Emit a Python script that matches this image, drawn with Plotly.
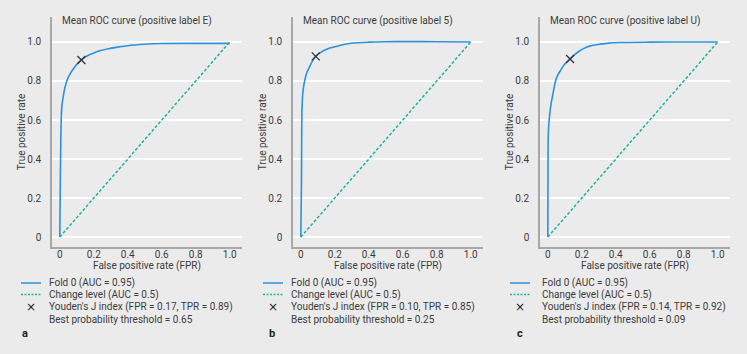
import plotly.graph_objects as go

W, H = 747, 354

titles = ["Mean ROC curve (positive label E)",
          "Mean ROC curve (positive label 5)",
          "Mean ROC curve (positive label U)"]
panel_letters = ["a", "b", "c"]

# ROC curves
fpr_a = [0.0, 0.003, 0.006, 0.008, 0.012, 0.02, 0.03, 0.043, 0.058, 0.075, 0.1, 0.127, 0.16, 0.196, 0.24, 0.294, 0.35, 0.40, 0.5, 0.6, 0.8, 1.0]
tpr_a = [0.0, 0.30, 0.50, 0.60, 0.67, 0.72, 0.765, 0.805, 0.833, 0.856, 0.885, 0.908, 0.928, 0.942, 0.956, 0.967, 0.975, 0.981, 0.988, 0.992, 0.993, 0.993]
fpr_b = [0.0, 0.004, 0.006, 0.009, 0.012, 0.018, 0.025, 0.036, 0.05, 0.068, 0.088, 0.12, 0.16, 0.213, 0.26, 0.31, 0.4, 0.5, 0.6, 0.8, 1.0]
tpr_b = [0.0, 0.30, 0.62, 0.70, 0.74, 0.78, 0.81, 0.845, 0.87, 0.902, 0.926, 0.948, 0.965, 0.978, 0.988, 0.995, 0.999, 1.001, 1.002, 1.001, 1.0]
fpr_c = [0.0, 0.001, 0.002, 0.004, 0.008, 0.016, 0.027, 0.047, 0.06, 0.076, 0.1, 0.131, 0.155, 0.18, 0.21, 0.249, 0.3, 0.347, 0.425, 0.6, 0.8, 1.0]
tpr_c = [0.0, 0.30, 0.497, 0.55, 0.60, 0.665, 0.72, 0.805, 0.833, 0.856, 0.887, 0.913, 0.933, 0.95, 0.966, 0.98, 0.988, 0.993, 0.997, 0.999, 1.0, 1.0]
fprs = [fpr_a, fpr_b, fpr_c]
tprs = [tpr_a, tpr_b, tpr_c]

# Youden's J points (as drawn)
youden_fpr = [0.127, 0.088, 0.131]
youden_tpr = [0.908, 0.926, 0.913]

chance_x = [0.0, 1.0]
chance_y = [0.0, 1.0]

legend_texts = [
    ["Fold 0 (AUC = 0.95)", "Change level (AUC = 0.5)",
     "Youden's J index (FPR = 0.17, TPR = 0.89)", "Best probability threshold = 0.65"],
    ["Fold 0 (AUC = 0.95)", "Change level (AUC = 0.5)",
     "Youden's J index (FPR = 0.10, TPR = 0.85)", "Best probability threshold = 0.25"],
    ["Fold 0 (AUC = 0.95)", "Change level (AUC = 0.5)",
     "Youden's J index (FPR = 0.14, TPR = 0.92)", "Best probability threshold = 0.09"],
]

tick_vals = [0, 0.2, 0.4, 0.6, 0.8, 1.0]
tick_text = ["0", "0.2", "0.4", "0.6", "0.8", "1.0"]

# ---- styling ----
BG = "#ebebeb"
BLUE = "#2b92da"
TEAL = "#1bb3a0"
TXT = "#3c3c3c"
AXC = "#a8a8a8"
FONT = "Roboto"
FS = 10

axis_left_px = [52, 293, 540]
plot_w = 190
top_px, bot_px = 17, 247

def px(x):
    return x / W

def py(y):
    return 1 - y / H

fig = go.Figure()
annotations = []
shapes = []

for i in range(3):
    xa = "x" if i == 0 else f"x{i+1}"
    ya = "y" if i == 0 else f"y{i+1}"
    fig.add_trace(go.Scatter(x=chance_x, y=chance_y, mode="lines",
                             line=dict(color=TEAL, width=1.5, dash="3px,2px"),
                             xaxis=xa, yaxis=ya, showlegend=False, hoverinfo="skip"))
    fig.add_trace(go.Scatter(x=fprs[i], y=tprs[i], mode="lines",
                             line=dict(color=BLUE, width=1.6, shape="spline", smoothing=0.8),
                             xaxis=xa, yaxis=ya, showlegend=False))
    fig.add_trace(go.Scatter(x=[youden_fpr[i]], y=[youden_tpr[i]], mode="markers",
                             marker=dict(symbol="x-thin", size=8, line=dict(color="#333333", width=1.3)),
                             xaxis=xa, yaxis=ya, showlegend=False))

    l = axis_left_px[i]
    dom = [px(l), px(l + plot_w)]
    xkey = "xaxis" if i == 0 else f"xaxis{i+1}"
    ykey = "yaxis" if i == 0 else f"yaxis{i+1}"
    fig.layout[xkey] = dict(domain=dom, anchor=ya, range=[-0.046, 1.072],
                            tickvals=tick_vals, ticktext=tick_text, showgrid=False,
                            zeroline=False, showline=True, linecolor=AXC, linewidth=1.5,
                            ticks="", ticklen=0, ticklabelstandoff=-3,
                            tickfont=dict(family=FONT, size=FS, color=TXT),
                            title=dict(text="False positive rate (FPR)", standoff=2,
                                       font=dict(family=FONT, size=FS, color=TXT)))
    fig.layout[ykey] = dict(domain=[py(bot_px), py(top_px)], anchor=xa, range=[-0.051, 1.128],
                            tickvals=tick_vals, ticktext=tick_text, showgrid=True,
                            gridcolor="#ffffff", gridwidth=1.5,
                            zeroline=False, showline=True, linecolor=AXC, linewidth=1.5,
                            ticks="outside", ticklen=7, tickcolor="rgba(0,0,0,0)",
                            tickfont=dict(family=FONT, size=FS, color=TXT),
                            title=dict(text="True positive rate", standoff=0,
                                       font=dict(family=FONT, size=FS, color=TXT)))

    # panel title
    annotations.append(dict(text=titles[i], xref="paper", yref="paper",
                            x=px(l + 8), y=py(21), xanchor="left", yanchor="middle",
                            showarrow=False, font=dict(family=FONT, size=FS, color=TXT)))

# legends (drawn manually)
key_x0 = [21, 263, 510]
text_x = [47, 289, 540]
rows_y = [283, 294.5, 307, 319.5]
letter_x = [20, 267, 515]
for i in range(3):
    k0 = key_x0[i]
    shapes.append(dict(type="line", xref="paper", yref="paper",
                       x0=px(k0), x1=px(k0 + 20), y0=py(rows_y[0]), y1=py(rows_y[0]),
                       line=dict(color=BLUE, width=1.5)))
    shapes.append(dict(type="line", xref="paper", yref="paper",
                       x0=px(k0), x1=px(k0 + 20), y0=py(rows_y[1]), y1=py(rows_y[1]),
                       line=dict(color=TEAL, width=1.5, dash="2px,1.5px")))
    annotations.append(dict(text="×", xref="paper", yref="paper",
                            x=px(k0 + 10), y=py(rows_y[2]), xanchor="center", yanchor="middle",
                            showarrow=False, font=dict(family="DejaVu Sans", size=12, color="#222222")))
    for r in range(4):
        annotations.append(dict(text=legend_texts[i][r], xref="paper", yref="paper",
                                x=px(text_x[i]), y=py(rows_y[r]), xanchor="left", yanchor="middle",
                                showarrow=False, font=dict(family=FONT, size=FS, color=TXT)))
    annotations.append(dict(text="<b>" + panel_letters[i] + "</b>", xref="paper", yref="paper",
                            x=px(letter_x[i]), y=py(333), xanchor="left", yanchor="middle",
                            showarrow=False, font=dict(family=FONT, size=11, color="#222222")))

fig.update_layout(width=W, height=H, margin=dict(l=0, r=0, t=0, b=0),
                  paper_bgcolor=BG, plot_bgcolor=BG, showlegend=False,
                  annotations=annotations, shapes=shapes)

fig.write_html("out.html")
